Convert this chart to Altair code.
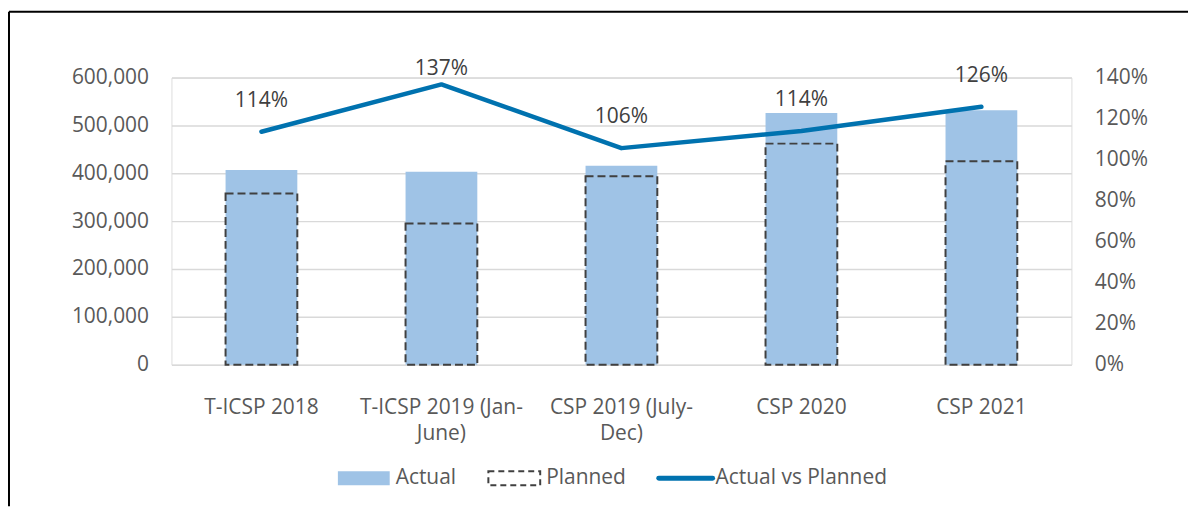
import altair as alt
import pandas as pd

categories = ["T-ICSP 2018", "T-ICSP 2019 (Jan-June)", "CSP 2019 (July-Dec)", "CSP 2020", "CSP 2021"]
actual = [407000, 403000, 416000, 526000, 532000]
planned = [358000, 295000, 394000, 462000, 425000]
ratio = [1.136, 1.367, 1.056, 1.140, 1.258]

left_ticks = [0, 100000, 200000, 300000, 400000, 500000, 600000]
right_ticks = [0, 0.2, 0.4, 0.6, 0.8, 1.0, 1.2, 1.4]

df = pd.DataFrame({"cat": categories, "actual": actual, "planned": planned, "ratio": ratio})
one = pd.DataFrame({"k": [0]})

FONT = "Open Sans"
FS = 21
TXT = "#595959"
BAR = "#9FC3E6"
LINE = "#0072AF"
DASH = "#404040"

label_expr = ("split(replace(replace(datum.label, '(Jan-', '(Jan-|'), '(July-', '(July-|'), '|')")

x = alt.X("cat:N", sort=categories,
          scale=alt.Scale(paddingInner=0, paddingOuter=0),
          axis=alt.Axis(title=None, labelAngle=0, labelExpr=label_expr, labelPadding=32,
                        ticks=False, domain=False, labelFontSize=FS, labelColor=TXT,
                        labelLineHeight=26, labelLimit=0, labelFont=FONT))

left_axis = alt.Axis(title=None, values=left_ticks, format=",.0f", grid=True, gridColor="#D9D9D9",
                     gridWidth=1.5, ticks=False, domain=False, labelPadding=23,
                     labelFontSize=FS, labelColor=TXT, labelFont=FONT)
right_axis = alt.Axis(orient="right", title=None, values=right_ticks, format=".0%", grid=False,
                      ticks=False, domain=False, labelPadding=23, labelFontSize=FS,
                      labelColor=TXT, labelFont=FONT)
lscale = alt.Scale(domain=[0, 600000])
rscale = alt.Scale(domain=[0, 1.4])

base = alt.Chart(df)

bars_actual = base.mark_bar(size=72, color=BAR).encode(
    x=x, y=alt.Y("actual:Q", scale=lscale, axis=left_axis))
bars_planned = base.mark_bar(size=72, fill=None, fillOpacity=0, stroke=DASH, strokeWidth=2,
                             strokeDash=[8, 4]).encode(
    x=x, y=alt.Y("planned:Q", scale=lscale, axis=left_axis))

line = base.mark_line(color=LINE, strokeWidth=4.5, strokeCap="round", strokeJoin="round").encode(
    x=x, y=alt.Y("ratio:Q", scale=rscale, axis=right_axis))
labels_lo = base.transform_filter("datum.ratio < 1.3").mark_text(
    dy=-31, fontSize=FS, font=FONT, color="#404040").encode(
    x=x, y=alt.Y("ratio:Q", scale=rscale, axis=right_axis),
    text=alt.Text("ratio:Q", format=".0%"))
labels_hi = base.transform_filter("datum.ratio >= 1.3").mark_text(
    dy=-15, fontSize=FS, font=FONT, color="#404040").encode(
    x=x, y=alt.Y("ratio:Q", scale=rscale, axis=right_axis),
    text=alt.Text("ratio:Q", format=".0%"))

left_layer = alt.layer(bars_actual, bars_planned)
right_layer = alt.layer(line, labels_lo, labels_hi)

# frame (left and top border of the chart box)
fb = alt.Chart(one)
frame_left = fb.mark_rule(color="black", strokeWidth=2).encode(
    x=alt.value(-163), y=alt.value(-66), y2=alt.value(430))
frame_top = fb.mark_rule(color="black", strokeWidth=2).encode(
    x=alt.value(-163), x2=alt.value(1020), y=alt.value(-66))

# legend
leg_actual = fb.mark_rect(color=BAR).encode(
    x=alt.value(167), x2=alt.value(219), y=alt.value(395), y2=alt.value(409))
leg_planned = fb.mark_rect(fill=None, fillOpacity=0, stroke=DASH, strokeWidth=2, strokeDash=[6, 4]).encode(
    x=alt.value(318), x2=alt.value(370), y=alt.value(395), y2=alt.value(409))
leg_line = fb.mark_rule(color=LINE, strokeWidth=5, strokeCap="round").encode(
    x=alt.value(489), x2=alt.value(543), y=alt.value(402))
leg_t1 = fb.mark_text(align="left", baseline="middle", fontSize=FS, font=FONT, color=TXT).encode(
    x=alt.value(225), y=alt.value(402), text=alt.value("Actual"))
leg_t2 = fb.mark_text(align="left", baseline="middle", fontSize=FS, font=FONT, color=TXT).encode(
    x=alt.value(376), y=alt.value(402), text=alt.value("Planned"))
leg_t3 = fb.mark_text(align="left", baseline="middle", fontSize=FS, font=FONT, color=TXT).encode(
    x=alt.value(546), y=alt.value(402), text=alt.value("Actual vs Planned"))

chart = alt.layer(
    left_layer, right_layer,
    frame_left, frame_top, leg_actual, leg_planned, leg_line, leg_t1, leg_t2, leg_t3
).resolve_scale(y="independent").properties(
    width=903, height=288,
    padding={"top": 2, "left": 0, "right": 0, "bottom": 0},
    background="white"
).configure_view(stroke=None).configure(font=FONT)

chart.save("out.html", embed_options={"renderer": "svg", "actions": False})
